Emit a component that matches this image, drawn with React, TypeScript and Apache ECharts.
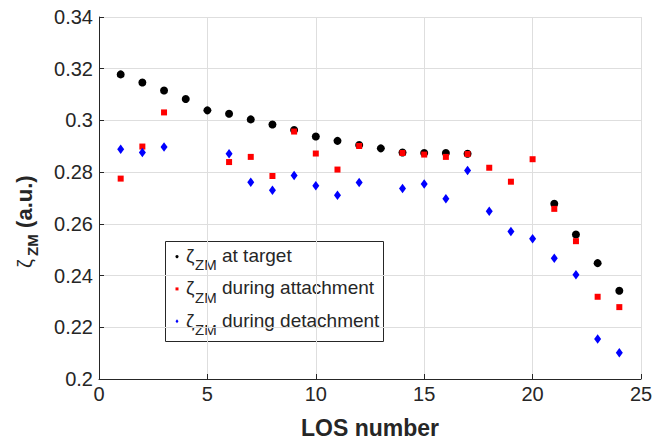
import React, { useEffect, useRef } from "react";
import * as echarts from "echarts";

// LOS channel numbers
const los = [1, 2, 3, 4, 5, 6, 7, 8, 9, 10, 11, 12, 13, 14, 15, 16, 17, 18, 19, 20, 21, 22, 23, 24];

// ζ_ZM at target
const zetaTarget: (number | null)[] = [
  0.3178, 0.3147, 0.3116, 0.3083, 0.3039, 0.3026, 0.3004, 0.2984, 0.2963, 0.2938, 0.2921, 0.2905,
  0.2892, 0.2876, 0.2874, 0.2874, 0.2871, null, null, null, 0.2678, 0.2559, 0.2448, 0.2341,
];

// ζ_ZM during attachment
const zetaAttach: (number | null)[] = [
  0.2775, 0.2899, 0.3031, null, null, 0.2839, 0.2859, 0.2785, 0.2957, 0.2872, 0.281, 0.2901,
  null, 0.2874, 0.2868, 0.2859, 0.287, 0.2817, 0.2763, 0.285, 0.2658, 0.2533, 0.2318, 0.2278,
];

// ζ_ZM during detachment
const zetaDetach: (number | null)[] = [
  0.2889, 0.2876, 0.2897, null, null, 0.2871, 0.2761, 0.273, 0.2787, 0.2747, 0.2711, 0.276,
  null, 0.2737, 0.2754, 0.2697, 0.2806, 0.2649, 0.257, 0.2542, 0.2467, 0.2403, 0.2155, 0.2102,
];

const legendLabels = ["at target", "during attachment", "during detachment"];
const seriesColors = ["#000000", "#ff0000", "#0000ff"];

const FONT = "'Liberation Sans', Arial, Helvetica, sans-serif";
const INK = "#262626";

function pairs(vals: (number | null)[]) {
  const out: [number, number][] = [];
  los.forEach((x, i) => {
    const v = vals[i];
    if (v !== null) out.push([x, v]);
  });
  return out;
}

function legendGraphics() {
  const box = { x: 165, y: 241, w: 218, h: 100 };
  const rowBase = [262, 294.3, 326.6];
  const children: any[] = [
    {
      type: "rect",
      shape: { x: box.x + 0.5, y: box.y + 0.5, width: box.w, height: box.h },
      style: { fill: "#ffffff", stroke: INK, lineWidth: 1 },
    },
  ];
  rowBase.forEach((base, i) => {
    const mid = base - 0.3465 * 19;
    const color = seriesColors[i];
    const my = mid + 1.2;
    if (i === 0) {
      children.push({ type: "circle", shape: { cx: 177, cy: my, r: 1.6 }, style: { fill: color } });
    } else if (i === 1) {
      children.push({ type: "rect", shape: { x: 175.5, y: my - 1.5, width: 3, height: 3 }, style: { fill: color } });
    } else {
      children.push({
        type: "polygon",
        shape: { points: [[177, my - 2], [178.5, my], [177, my + 2], [175.5, my]] },
        style: { fill: color },
      });
    }
    children.push({
      type: "text",
      x: 186,
      y: mid,
      style: { text: "ζ", font: `19px ${FONT}`, fill: INK, verticalAlign: "middle", align: "left" },
    });
    children.push({
      type: "text",
      x: 195,
      y: base + 8 - 0.3465 * 15,
      style: { text: "ZM", font: `15px ${FONT}`, fill: INK, verticalAlign: "middle", align: "left" },
    });
    children.push({
      type: "text",
      x: 222,
      y: mid,
      style: { text: legendLabels[i], font: `19px ${FONT}`, fill: INK, verticalAlign: "middle", align: "left" },
    });
  });
  return { type: "group", z: 100, children };
}

function yNameGraphic() {
  // rotated so the label reads bottom-to-top; local +y points toward the axis
  return {
    type: "group",
    x: 0,
    y: 268,
    rotation: Math.PI / 2,
    children: [
      {
        type: "text",
        x: 0,
        y: 32 - 0.3465 * 20,
        style: { text: "ζ", font: `20px ${FONT}`, fill: INK, verticalAlign: "middle", align: "left" },
      },
      {
        type: "text",
        x: 12,
        y: 38 - 0.3465 * 15,
        style: { text: "ZM", font: `bold 15px ${FONT}`, fill: INK, verticalAlign: "middle", align: "left" },
      },
      {
        type: "text",
        x: 34,
        y: 32 - 0.3465 * 22,
        style: { text: " (a.u.)", font: `bold 22px ${FONT}`, fill: INK, verticalAlign: "middle", align: "left" },
      },
    ],
  };
}

export default function App() {
  const ref = useRef<HTMLDivElement>(null);

  useEffect(() => {
    if (!ref.current) return;
    const chart = echarts.init(ref.current, undefined, { renderer: "svg" });
    const axisLabel = { color: INK, fontSize: 20, fontFamily: FONT };
    chart.setOption({
      animation: false,
      backgroundColor: "#ffffff",
      grid: { left: 99, right: 26, top: 17, bottom: 61 },
      xAxis: {
        type: "value",
        min: 0,
        max: 25,
        interval: 5,
        axisLine: { show: true, onZero: false, lineStyle: { color: INK, width: 1 } },
        axisTick: { show: true, inside: true, length: 5, lineStyle: { color: INK } },
        axisLabel: { ...axisLabel, margin: 5 },
        splitLine: { show: true, lineStyle: { color: "#dedede", width: 1 } },
      },
      yAxis: {
        type: "value",
        min: 0.2,
        max: 0.34,
        interval: 0.02,
        axisLine: { show: true, onZero: false, lineStyle: { color: INK, width: 1 } },
        axisTick: { show: true, inside: true, length: 5, lineStyle: { color: INK } },
        axisLabel: { ...axisLabel, margin: 6, formatter: (v: number) => String(+v.toFixed(2)) },
        splitLine: { show: true, lineStyle: { color: "#dedede", width: 1 } },
      },
      series: [
        {
          name: "at target",
          type: "scatter",
          symbol: "circle",
          symbolSize: 8,
          itemStyle: { color: seriesColors[0], opacity: 1 },
          data: pairs(zetaTarget),
        },
        {
          name: "during attachment",
          type: "scatter",
          symbol: "rect",
          symbolSize: 6,
          itemStyle: { color: seriesColors[1], opacity: 1 },
          data: pairs(zetaAttach),
        },
        {
          name: "during detachment",
          type: "scatter",
          symbol: "diamond",
          symbolSize: [7, 9.5],
          itemStyle: { color: seriesColors[2], opacity: 1 },
          data: pairs(zetaDetach),
        },
      ],
      graphic: [
        legendGraphics(),
        yNameGraphic(),
        {
          type: "text",
          x: 370,
          y: 428,
          style: {
            text: "LOS number",
            font: `bold 23px ${FONT}`,
            fill: INK,
            align: "center",
            verticalAlign: "middle",
          },
        },
      ],
    });
    return () => chart.dispose();
  }, []);

  return (
    <div
      ref={ref}
      style={{ position: "fixed", left: 0, top: 0, width: 667, height: 440, background: "#fff" }}
    />
  );
}
